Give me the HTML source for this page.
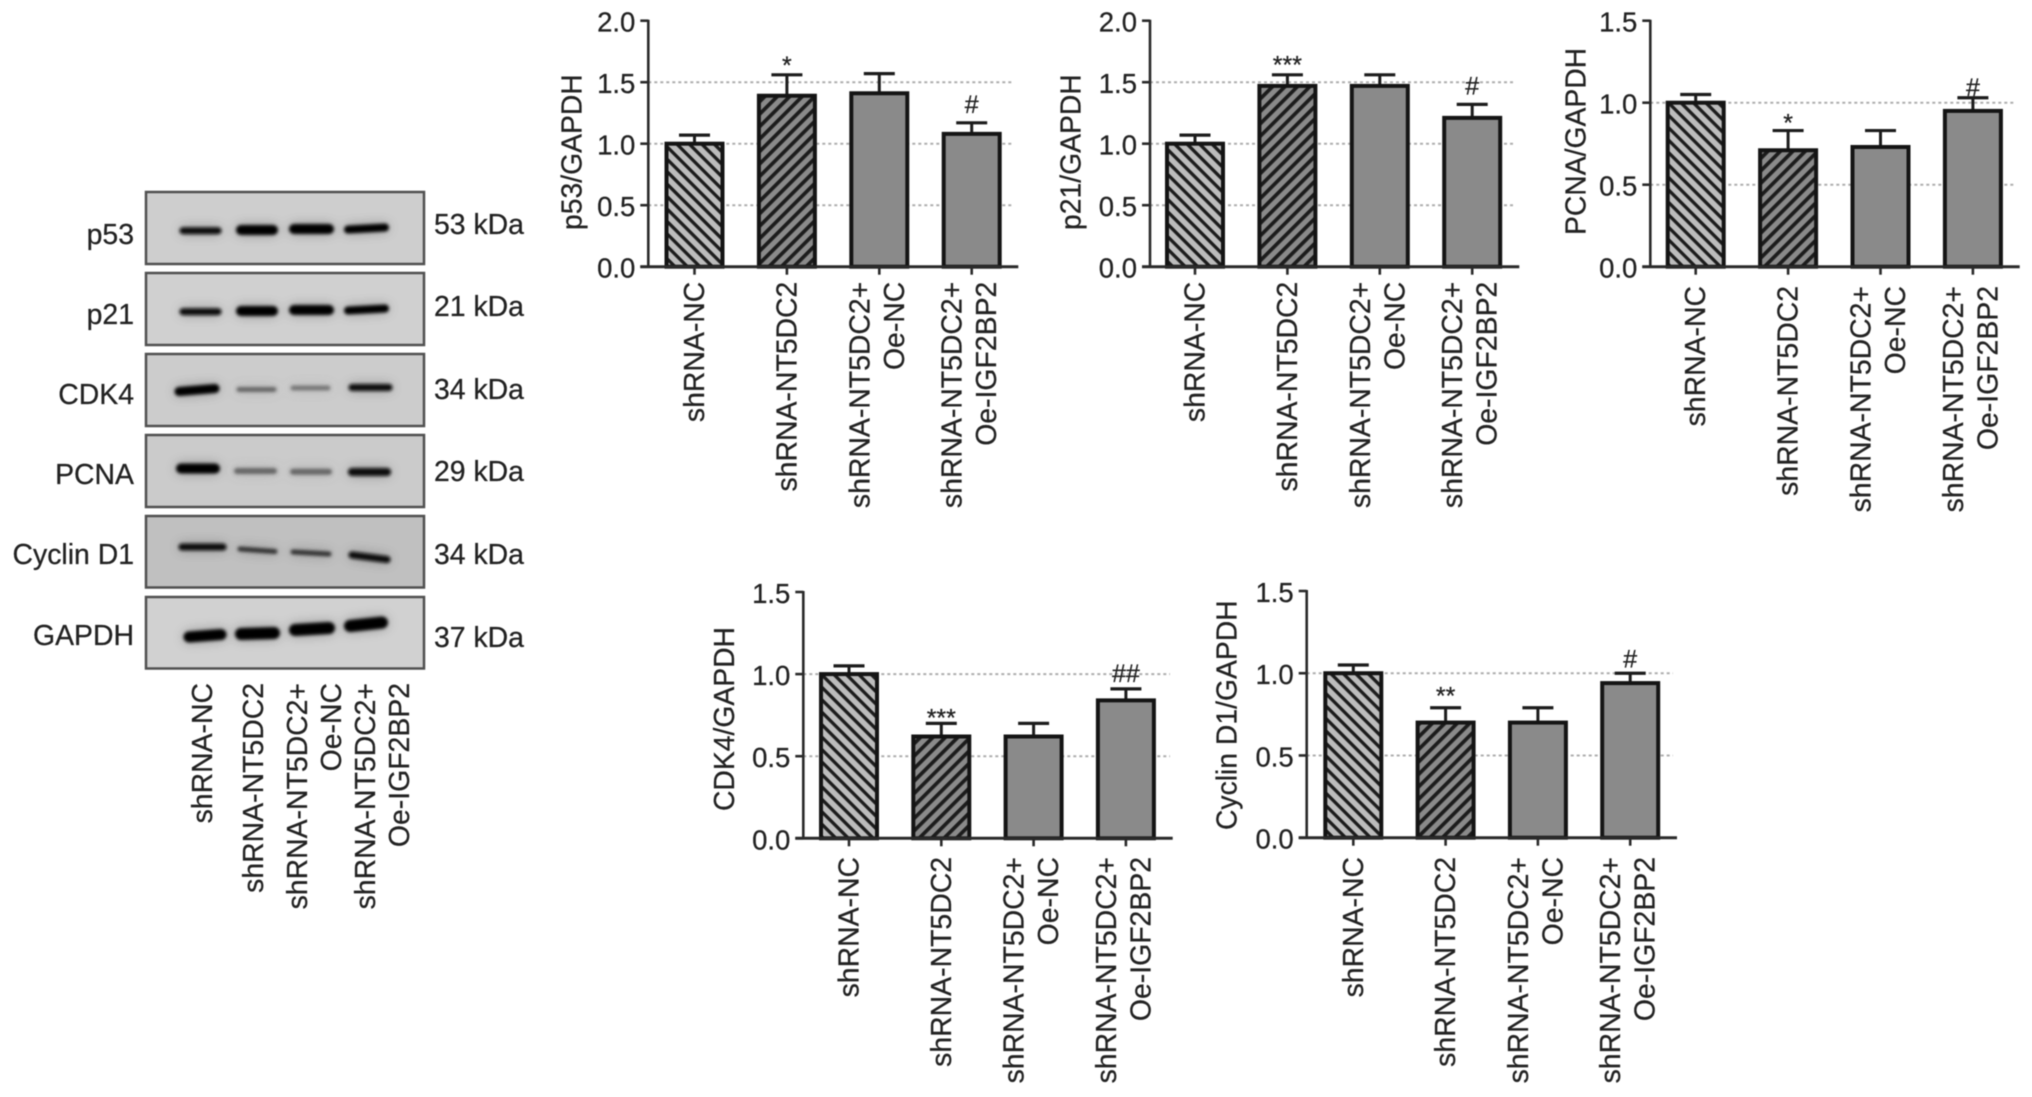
<!DOCTYPE html>
<html lang="en">
<head>
<meta charset="utf-8">
<title>Western blots and densitometry bar charts</title>
<style>
html,body{margin:0;padding:0;background:#fff;width:2032px;height:1097px;overflow:hidden}
svg{display:block;filter:blur(0.65px)}
text{font-family:"Liberation Sans",Arial,sans-serif;fill:#222;stroke:#222;stroke-width:.25px}
</style>
</head>
<body>
<svg id="figure" xmlns="http://www.w3.org/2000/svg" width="2032" height="1097" viewBox="0 0 2032 1097">
<defs>
<pattern id="hatch-back" patternUnits="userSpaceOnUse" width="8.8" height="8.8" patternTransform="rotate(45)">
<rect width="8.8" height="8.8" fill="#bcbcbc"/><rect width="8.8" height="3.3" fill="#1c1c1c"/>
</pattern>
<pattern id="hatch-forward" patternUnits="userSpaceOnUse" width="8.8" height="8.8" patternTransform="rotate(-45)">
<rect width="8.8" height="8.8" fill="#8a8a8a"/><rect width="8.8" height="3.7" fill="#1c1c1c"/>
</pattern>
<filter id="band-blur" x="-30%" y="-300%" width="160%" height="700%">
<feGaussianBlur in="SourceGraphic" stdDeviation="6" result="halo"/>
<feComponentTransfer in="halo" result="halo2"><feFuncA type="linear" slope="0.3"/></feComponentTransfer>
<feGaussianBlur in="SourceGraphic" stdDeviation="1.7" result="core"/>
<feMerge><feMergeNode in="halo2"/><feMergeNode in="core"/></feMerge>
</filter>
</defs>
<rect width="2032" height="1097" fill="#fff"/>

<g id="blots" stroke-linecap="round" fill="none">
<rect x="146" y="192" width="278" height="72" fill="#cecece" stroke="#505050" stroke-width="2.5"/>
<rect x="146" y="273" width="278" height="72" fill="#d0d0d0" stroke="#505050" stroke-width="2.5"/>
<rect x="146" y="354" width="278" height="72" fill="#cccccc" stroke="#505050" stroke-width="2.5"/>
<rect x="146" y="435" width="278" height="72" fill="#cbcbcb" stroke="#505050" stroke-width="2.5"/>
<rect x="146" y="516" width="278" height="71.5" fill="#c0c0c0" stroke="#505050" stroke-width="2.5"/>
<rect x="146" y="597" width="278" height="71.5" fill="#d1d1d1" stroke="#505050" stroke-width="2.5"/>
<g filter="url(#band-blur)">
<path d="M183 230.7H218" stroke="#0a0a0a" stroke-width="7"/>
<path d="M241 230H273" stroke="#000" stroke-width="10"/>
<path d="M294 229H329" stroke="#000" stroke-width="10"/>
<path d="M348 229.5L385 227.5" stroke="#000" stroke-width="8"/>
<path d="M183 311.7H218" stroke="#0a0a0a" stroke-width="7"/>
<path d="M241 311H273" stroke="#000" stroke-width="10"/>
<path d="M294 310H329" stroke="#000" stroke-width="10"/>
<path d="M348 310.5L385 308.5" stroke="#000" stroke-width="8"/>
<path d="M179 391.5L215 388.5" stroke="#000" stroke-width="9"/>
<path d="M239 389.5H274" stroke="#666" stroke-width="5"/>
<path d="M293 388H328" stroke="#777" stroke-width="5"/>
<path d="M352 387.5H389" stroke="#111" stroke-width="7"/>
<path d="M181 468.5H215" stroke="#000" stroke-width="10"/>
<path d="M237 471H274" stroke="#666" stroke-width="6"/>
<path d="M293 471.7H329" stroke="#666" stroke-width="6"/>
<path d="M352 472H387" stroke="#0a0a0a" stroke-width="8"/>
<path d="M182 547H223" stroke="#0a0a0a" stroke-width="7"/>
<path d="M240 549L275 551.5" stroke="#333" stroke-width="5"/>
<path d="M293 552L329 554" stroke="#333" stroke-width="5"/>
<path d="M352 555L387 559.5" stroke="#0a0a0a" stroke-width="7"/>
<path d="M189 637L221 634.5" stroke="#000" stroke-width="11"/>
<path d="M241 634L274 633" stroke="#000" stroke-width="12"/>
<path d="M295 630L329 628" stroke="#000" stroke-width="12"/>
<path d="M350 626L382 622.5" stroke="#000" stroke-width="12"/>
</g>
</g>

<g font-size="28.4" text-anchor="end">
<text x="134" y="244">p53</text>
<text x="134" y="324">p21</text>
<text x="134" y="404">CDK4</text>
<text x="134" y="484">PCNA</text>
<text x="134" y="564">Cyclin D1</text>
<text x="134" y="645">GAPDH</text>
</g>
<g font-size="28.4">
<text x="434" y="234">53 kDa</text>
<text x="434" y="316">21 kDa</text>
<text x="434" y="399">34 kDa</text>
<text x="434" y="481">29 kDa</text>
<text x="434" y="564">34 kDa</text>
<text x="434" y="647">37 kDa</text>
</g>
<g font-size="28.4" text-anchor="end">
<text transform="translate(212 683) rotate(-90)">shRNA-NC</text>
<text transform="translate(263 683) rotate(-90)">shRNA-NT5DC2</text>
<text transform="translate(307 683) rotate(-90)">shRNA-NT5DC2+</text>
<text transform="translate(341 683) rotate(-90)">Oe-NC</text>
<text transform="translate(375 683) rotate(-90)">shRNA-NT5DC2+</text>
<text transform="translate(409 683) rotate(-90)">Oe-IGF2BP2</text>
</g>
<g id="charts"></g>
</svg>

<script>
const categories = [['shRNA-NC'], ['shRNA-NT5DC2'], ['shRNA-NT5DC2+', 'Oe-NC'], ['shRNA-NT5DC2+', 'Oe-IGF2BP2']];
const categoryKeys = ['shrna-nc', 'shrna-nt5dc2', 'shrna-nt5dc2-oe-nc', 'shrna-nt5dc2-oe-igf2bp2'];

const ticksTo2 = [0, 0.5, 1, 1.5, 2];
const tickLabelsTo2 = ['0.0', '0.5', '1.0', '1.5', '2.0'];
const ticksTo15 = [0, 0.5, 1, 1.5];
const tickLabelsTo15 = ['0.0', '0.5', '1.0', '1.5'];

const p53Means = [1.0, 1.39, 1.41, 1.08];
const p53Upper = [1.07, 1.56, 1.57, 1.17];
const p53Sig = ['', '*', '', '#'];

const p21Means = [1.0, 1.47, 1.47, 1.21];
const p21Upper = [1.07, 1.56, 1.56, 1.32];
const p21Sig = ['', '***', '', '#'];

const pcnaMeans = [1.0, 0.71, 0.73, 0.95];
const pcnaUpper = [1.05, 0.83, 0.83, 1.03];
const pcnaSig = ['', '*', '', '#'];

const cdk4Means = [1.0, 0.62, 0.62, 0.84];
const cdk4Upper = [1.05, 0.70, 0.70, 0.91];
const cdk4Sig = ['', '***', '', '##'];

const cyclinMeans = [1.0, 0.70, 0.70, 0.94];
const cyclinUpper = [1.05, 0.79, 0.79, 1.0];
const cyclinSig = ['', '**', '', '#'];

const SVGNS = 'http://www.w3.org/2000/svg';
const chartsRoot = document.getElementById('charts');

function make(tag, attrs, parent, content) {
  const node = document.createElementNS(SVGNS, tag);
  for (const k in attrs) node.setAttribute(k, attrs[k]);
  if (content !== undefined) node.textContent = content;
  parent.appendChild(node);
  return node;
}

function drawChart(cfg) {
  const g = make('g', {}, chartsRoot);
  
  

  const domainMax = cfg.ticks[cfg.ticks.length - 1];
  const yScale = v => cfg.y0 - (v / domainMax) * (cfg.y0 - cfg.yTop);
  const xScale = i => cfg.x0 + i * cfg.step;

  cfg.ticks.forEach((t, i) => {
    if (t === 0 || t === domainMax) return;
    const grid = make('line', {x1: cfg.axisX, x2: cfg.gridEnd, y1: yScale(t), y2: yScale(t), stroke: '#adadad', 'stroke-width': 2, 'stroke-dasharray': '3 3'}, g);
    
    
  });

  cfg.means.forEach((m, i) => {
    const cx = xScale(i);
    const stem = make('line', {x1: cx, x2: cx, y1: yScale(m), y2: yScale(cfg.upper[i]), stroke: '#1c1c1c', 'stroke-width': 3}, g);
    
    
    const cap = make('line', {x1: cx - 15.5, x2: cx + 15.5, y1: yScale(cfg.upper[i]), y2: yScale(cfg.upper[i]), stroke: '#1c1c1c', 'stroke-width': 3.2}, g);
    
    
    const fill = i === 0 ? 'url(#hatch-back)' : i === 1 ? 'url(#hatch-forward)' : '#8a8a8a';
    const bar = make('rect', {x: cx - cfg.barW / 2, y: yScale(m), width: cfg.barW, height: cfg.y0 - yScale(m), fill: fill, stroke: '#141414', 'stroke-width': 4}, g);
    
    
    if (cfg.sig[i]) {
      const mark = make('text', {x: cx, y: yScale(cfg.upper[i]) - cfg.sigGap[i], 'text-anchor': 'middle', 'font-size': 25}, g, cfg.sig[i]);
      
      
    }
  });

  const yAxis = make('line', {x1: cfg.axisX, x2: cfg.axisX, y1: cfg.yTop - 1, y2: cfg.y0, stroke: '#2a2a2a', 'stroke-width': 2.6}, g);
  
  
  const xAxis = make('line', {x1: cfg.axisX - 8, x2: cfg.axisEnd, y1: cfg.y0, y2: cfg.y0, stroke: '#2a2a2a', 'stroke-width': 3}, g);
  
  

  cfg.ticks.forEach((t, i) => {
    const mark = make('line', {x1: cfg.axisX - 8, x2: cfg.axisX, y1: yScale(t), y2: yScale(t), stroke: '#2a2a2a', 'stroke-width': 2.6}, g);
    
    
    const label = make('text', {x: cfg.axisX - 13, y: yScale(t) + 11, 'text-anchor': 'end', 'font-size': 27.5}, g, cfg.tickLabels[i]);
    
    
  });

  categories.forEach((lines, i) => {
    const cx = xScale(i);
    const mark = make('line', {x1: cx, x2: cx, y1: cfg.y0, y2: cfg.y0 + 8, stroke: '#2a2a2a', 'stroke-width': 2.6}, g);
    
    
    lines.forEach((line, j) => {
      const base = lines.length === 1 ? cx + 9.5 : cx - 10 + j * 34.5;
      const label = make('text', {transform: 'translate(' + base + ' ' + cfg.labelTop + ') rotate(-90)', 'text-anchor': 'end', 'font-size': 28.4}, g, line);
      
      
    });
  });

  const title = make('text', {transform: 'translate(' + cfg.titleX + ' ' + cfg.titleBottom + ') rotate(-90)', 'font-size': 28.3}, g, cfg.title);
  
  
}

drawChart({key: 'p53', title: 'p53/GAPDH', means: p53Means, upper: p53Upper, sig: p53Sig, ticks: ticksTo2, tickLabels: tickLabelsTo2,
  axisX: 648.3, axisEnd: 1018.3, gridEnd: 1014.3, x0: 694.5, step: 92.4, barW: 56, y0: 266.7, yTop: 20.7, labelTop: 281.7, titleX: 581.7, titleBottom: 230, sigGap: [0, 1, 0, 10]});
drawChart({key: 'p21', title: 'p21/GAPDH', means: p21Means, upper: p21Upper, sig: p21Sig, ticks: ticksTo2, tickLabels: tickLabelsTo2,
  axisX: 1150, axisEnd: 1519.3, gridEnd: 1515, x0: 1195, step: 92.4, barW: 56, y0: 266.7, yTop: 20.7, labelTop: 281.7, titleX: 1080.7, titleBottom: 230, sigGap: [0, 1.5, 0, 10]});
drawChart({key: 'pcna', title: 'PCNA/GAPDH', means: pcnaMeans, upper: pcnaUpper, sig: pcnaSig, ticks: ticksTo15, tickLabels: tickLabelsTo15,
  axisX: 1650.3, axisEnd: 2019.7, gridEnd: 2016, x0: 1695.7, step: 92.4, barW: 56, y0: 266.7, yTop: 20.7, labelTop: 286, titleX: 1585.3, titleBottom: 235, sigGap: [0, -1, 0, 2]});
drawChart({key: 'cdk4', title: 'CDK4/GAPDH', means: cdk4Means, upper: cdk4Upper, sig: cdk4Sig, ticks: ticksTo15, tickLabels: tickLabelsTo15,
  axisX: 803.3, axisEnd: 1172.7, gridEnd: 1170, x0: 849, step: 92.3, barW: 56, y0: 838.3, yTop: 592, labelTop: 857, titleX: 734, titleBottom: 811, sigGap: [0, -3, 0, 7]});
drawChart({key: 'cyclin-d1', title: 'Cyclin D1/GAPDH', means: cyclinMeans, upper: cyclinUpper, sig: cyclinSig, ticks: ticksTo15, tickLabels: tickLabelsTo15,
  axisX: 1306.7, axisEnd: 1677, gridEnd: 1673, x0: 1353.3, step: 92.3, barW: 56, y0: 837.7, yTop: 591, labelTop: 857, titleX: 1236.7, titleBottom: 830, sigGap: [0, 3.5, 0, 5.5]});
</script>
</body>
</html>
